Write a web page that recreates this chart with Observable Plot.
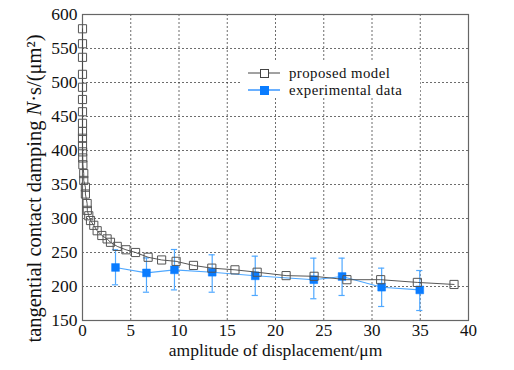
<!DOCTYPE html>
<html>
<head>
<meta charset="utf-8">
<script src="https://cdn.jsdelivr.net/npm/d3@7"></script>
<script src="https://cdn.jsdelivr.net/npm/@observablehq/plot@0.6"></script>
<style>
  body { margin: 0; background: #fff; }
  #wrap { position: relative; width: 514px; height: 370px; font-family: "Liberation Serif", "Times New Roman", serif; }
  #wrap svg, #wrap svg text { font-family: "Liberation Serif", "Times New Roman", serif !important; font-variant: normal !important; }
  #legend { position: absolute; left: 240px; top: 61px; width: 180px; height: 37px; background: #fff; font-size: 14.8px; letter-spacing: 0.45px; color: #111; }
  .row { position: absolute; left: 0; height: 16px; display: flex; align-items: center; }
  .row svg { display: block; }
  .row span { margin-left: 9px; white-space: nowrap; line-height: 1; }
</style>
</head>
<body>
<div id="wrap"></div>
<script>
// Proposed model (open squares)
const modelX = [0,0,0,0,0,0,0,0,0,0,0,0.01,0.02,0.04,0.13,0.13,0.3,0.3,0.48,0.5,0.65,0.83,1.17,1.52,2.0,2.55,2.9,3.6,4.5,5.5,6.8,8.2,9.7,11.5,13.4,15.8,18.1,21.1,24.0,27.4,30.9,34.7,38.5];
const modelY = [579,557,537,512,493,475,457,440,428,418,407,398,389,379,366,356,346,336,322,312,304,297,290,282,275,270,265,259,254,250,243,239,237,231,227,224.5,221,216,215,210,210,206,203];

// Experimental data (filled squares with error bars)
const expX = [3.42,6.63,9.53,13.44,17.9,23.97,26.9,31.0,34.95];
const expY = [228,220,224.5,221,215.7,210,214.7,199,195];
const expHi = [254,242,254.4,246.6,244.6,241.7,241.7,227,223.5];
const expLo = [202.5,191.6,195,191.6,186.8,182,186.8,170.6,164.7];

const xTicks = [0,5,10,15,20,25,30,35,40];
const yTicks = [150,200,250,300,350,400,450,500,550,600];

const model = modelX.map((x, i) => ({x, y: modelY[i]}));
const exp = expX.map((x, i) => ({x, y: expY[i], hi: expHi[i], lo: expLo[i]}));
const capHalf = 0.32;

const blue = "#0a7cff";
const lightBlue = "#4fa8ff";
const grey = "#444";
const serif = "'Liberation Serif', 'Times New Roman', serif";
const yLabel = "tangential contact damping N·s/(μm²)";

const chart = Plot.plot({
  width: 514,
  height: 370,
  marginLeft: 82,
  marginRight: 46,
  marginTop: 14,
  marginBottom: 50,
  style: {fontFamily: serif, color: "#111", background: "#fff"},
  x: {domain: [0, 40]},
  y: {domain: [150, 600]},
  marks: [
    Plot.gridX(xTicks.slice(1, -1), {stroke: "#333", strokeOpacity: 0.9, strokeDasharray: "2,2", strokeWidth: 0.8}),
    Plot.gridY(yTicks.slice(1, -1), {stroke: "#333", strokeOpacity: 0.9, strokeDasharray: "2,2", strokeWidth: 0.8}),
    Plot.frame({stroke: "#666", strokeWidth: 1.2}),
    Plot.axisX({ticks: xTicks, tickSize: 0, tickPadding: 3, fontSize: 17, fontFamily: serif, fontVariant: "normal", label: null}),
    Plot.axisY({ticks: yTicks, tickSize: 0, tickPadding: 5, fontSize: 17.5, fontFamily: serif, fontVariant: "normal", label: null}),
    Plot.axisX({ticks: [], tickSize: 0, fontSize: 17.5, fontFamily: serif,
      label: "amplitude of displacement/μm", labelAnchor: "center", labelArrow: "none", labelOffset: 35}),
    Plot.axisY({ticks: [], tickSize: 0, fontSize: 20.5, fontFamily: serif,
      label: yLabel, labelAnchor: "center", labelArrow: "none", labelOffset: 56}),
    // error bars
    Plot.ruleX(exp, {x: "x", y1: "lo", y2: "hi", stroke: lightBlue, strokeWidth: 1.2}),
    Plot.ruleY(exp, {y: "hi", x1: d => d.x - capHalf, x2: d => d.x + capHalf, stroke: lightBlue, strokeWidth: 1.2}),
    Plot.ruleY(exp, {y: "lo", x1: d => d.x - capHalf, x2: d => d.x + capHalf, stroke: lightBlue, strokeWidth: 1.2}),
    Plot.line(exp, {x: "x", y: "y", stroke: lightBlue, strokeWidth: 1.1}),
    Plot.dot(exp, {x: "x", y: "y", symbol: "square", r: 4.4, fill: blue, stroke: blue, strokeWidth: 0.5}),
    // model
    Plot.line(model, {x: "x", y: "y", stroke: grey, strokeWidth: 0.9}),
    Plot.dot(model, {x: "x", y: "y", symbol: "square", r: 4.6, fill: "none", stroke: "#555", strokeWidth: 1})
  ]
});
chart.style.fontFamily = serif;

// italicise the "N" of the unit in the y-axis label and shift the label down like the original
chart.querySelectorAll("text").forEach(t => {
  if (t.textContent === yLabel) {
    const host = t.querySelector("tspan") || t;
    const ns = "http://www.w3.org/2000/svg";
    host.textContent = "";
    const parts = [["tangential contact damping ", null], ["N", "italic"], ["·s/(μm²)", null]];
    for (const [s, st] of parts) {
      const sp = document.createElementNS(ns, "tspan");
      sp.textContent = s;
      if (st) sp.setAttribute("font-style", st);
      host.appendChild(sp);
    }
    const tr = t.getAttribute("transform") || "";
    t.setAttribute("transform", "translate(0,21) " + tr);
  }
});

const wrap = document.getElementById("wrap");
wrap.appendChild(chart);

const legend = document.createElement("div");
legend.id = "legend";
legend.innerHTML = `
  <div class="row" style="top:4px">
    <svg width="40" height="16"><line x1="8" y1="8" x2="40" y2="8" stroke="${grey}" stroke-width="1"/><rect x="20.5" y="4.5" width="8" height="8" fill="#fff" stroke="#444" stroke-width="1"/></svg>
    <span>proposed model</span>
  </div>
  <div class="row" style="top:21px">
    <svg width="40" height="16"><line x1="8" y1="8" x2="40" y2="8" stroke="#1a86ff" stroke-width="1.3"/><rect x="20.5" y="4.5" width="8" height="8" fill="${blue}" stroke="${blue}"/></svg>
    <span>experimental data</span>
  </div>`;
wrap.appendChild(legend);
</script>
</body>
</html>
